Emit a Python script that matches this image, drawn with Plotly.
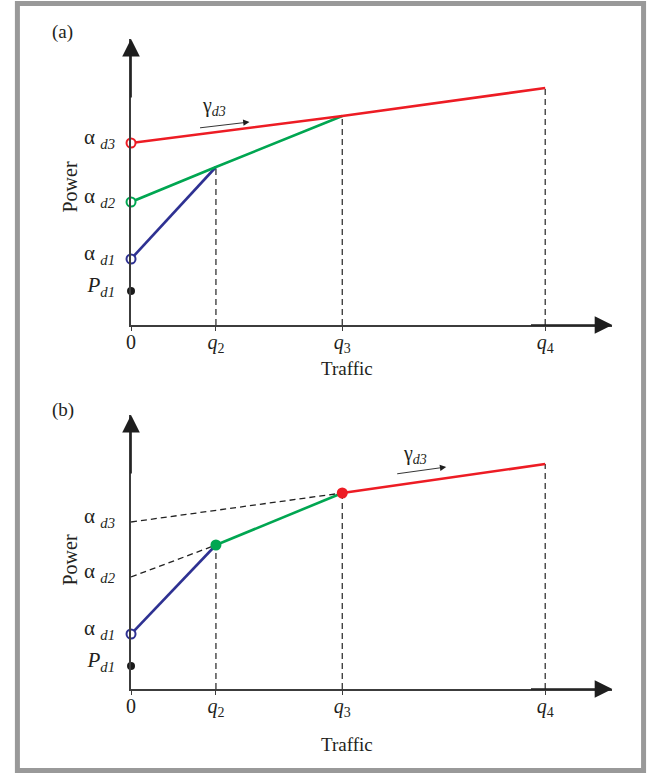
import plotly.graph_objects as go

W, H = 653, 773
FONT = "Liberation Serif"
TXT = "#231f20"
AX = "#3c3c3c"
RED = "#ed1c24"
GREEN = "#00a651"
BLUE = "#2e3192"

# ---------------- data ----------------
traffic_ticks = [0, 2.05, 5.1, 10]          # 0, q2, q3, q4
traffic_labels = ["0", "<i>q</i><sub>2</sub>", "<i>q</i><sub>3</sub>", "<i>q</i><sub>4</sub>"]
power_labels = ["<i>P</i><sub><i>d1</i></sub>",
                "α\u00a0<sub><i>d1</i></sub>",
                "α\u00a0<sub><i>d2</i></sub>",
                "α\u00a0<sub><i>d3</i></sub>"]

# panel (a)
a_pd1 = 1.7
a_alpha = [3.3, 6.15, 9.1]          # alpha_d1, alpha_d2, alpha_d3
a_power_q = [7.9, 10.45, 11.85]     # power at q2, q3, q4

# panel (b)
b_pd1 = 1.15
b_alpha = [2.75, 5.6, 8.35]
b_power_q = [7.2, 9.8, 11.25]

# axis extents (arrow tips)
x_top = 11.62
a_top = 14.3
b_top = 13.7

q0, q2, q3, q4 = traffic_ticks

fig = go.Figure()

def line(x, y, color, xa, ya, width=2.6, dash=None):
    fig.add_trace(go.Scatter(x=x, y=y, mode="lines", xaxis=xa, yaxis=ya,
                             line=dict(color=color, width=width, dash=dash),
                             hoverinfo="skip", showlegend=False))

def marker(x, y, color, xa, ya, size, fill, lw=2):
    fig.add_trace(go.Scatter(x=x, y=y, mode="markers", xaxis=xa, yaxis=ya,
                             cliponaxis=False,
                             marker=dict(size=size, color=fill,
                                         line=dict(color=color, width=lw)),
                             hoverinfo="skip", showlegend=False))

DASH = "6px,4px"
# ---------- panel (a) ----------
for q, p in zip([q2, q3, q4], a_power_q):
    line([q, q], [0, p], "#333333", "x", "y", width=1.3, dash=DASH)
line([q0, q2], [a_alpha[0], a_power_q[0]], BLUE, "x", "y")
line([q0, q2, q3], [a_alpha[1], a_power_q[0], a_power_q[1]], GREEN, "x", "y")
line([q0, q3, q4], [a_alpha[2], a_power_q[1], a_power_q[2]], RED, "x", "y")
for a, c in zip(a_alpha, [BLUE, GREEN, RED]):
    marker([0], [a], c, "x", "y", 9, "white")
marker([0], [a_pd1], "#1a1a1a", "x", "y", 8, "#1a1a1a", lw=0)

# ---------- panel (b) ----------
for q, p in zip([q2, q3, q4], b_power_q):
    line([q, q], [0, p], "#333333", "x2", "y2", width=1.3, dash=DASH)
line([q0, q2], [b_alpha[1], b_power_q[0]], "#222222", "x2", "y2", width=1.3, dash=DASH)
line([q0, q3], [b_alpha[2], b_power_q[1]], "#222222", "x2", "y2", width=1.3, dash=DASH)
line([q0, q2], [b_alpha[0], b_power_q[0]], BLUE, "x2", "y2")
line([q2, q3], [b_power_q[0], b_power_q[1]], GREEN, "x2", "y2")
line([q3, q4], [b_power_q[1], b_power_q[2]], RED, "x2", "y2")
marker([0], [b_alpha[0]], BLUE, "x2", "y2", 9, "white")
marker([0], [b_pd1], "#1a1a1a", "x2", "y2", 8, "#1a1a1a", lw=0)
marker([q2], [b_power_q[0]], GREEN, "x2", "y2", 11, GREEN, lw=0)
marker([q3], [b_power_q[1]], RED, "x2", "y2", 11, RED, lw=0)

def xaxis_cfg(anchor):
    return dict(domain=[127 / W, 612 / W], range=[0, x_top], anchor=anchor,
                showline=True, linecolor=AX, linewidth=1.6,
                tickvals=traffic_ticks, ticktext=traffic_labels,
                ticks="outside", ticklen=4, tickwidth=1.2, tickcolor=AX,
                ticklabelstandoff=-6,
                tickfont=dict(family=FONT, size=20, color=TXT),
                showgrid=False, zeroline=False, fixedrange=True)

def yaxis_cfg(anchor, dom, top, pd1, alpha):
    return dict(domain=dom, range=[0, top], anchor=anchor,
                showline=True, linecolor=AX, linewidth=1.6,
                tickvals=[pd1] + alpha, ticktext=power_labels,
                ticks="", ticklabelstandoff=10, ticklabelshift=-6,
                tickfont=dict(family=FONT, size=21, color=TXT),
                showgrid=False, zeroline=False, fixedrange=True)

annotations = []
def arrow(xr, yr, x, y, ax, ay, width, size):
    annotations.append(dict(xref=xr, yref=yr, axref=xr, ayref=yr, x=x, y=y, ax=ax, ay=ay,
                            text="", showarrow=True, arrowhead=2, arrowsize=size,
                            arrowwidth=width, arrowcolor="#1e1e1e", standoff=0,
                            font=dict(size=1)))

# axis arrow heads
arrow("x", "y", x_top, 0, x_top - 2, 0, 1.6, 2.2)
arrow("x", "y", 0, a_top, 0, a_top - 3, 1.6, 2.2)
arrow("x2", "y2", x_top, 0, x_top - 2, 0, 1.6, 2.2)
arrow("x2", "y2", 0, b_top, 0, b_top - 3, 1.6, 2.2)
# gamma arrows
arrow("x", "y", 2.86, 10.15, 1.63, 9.85, 0.9, 1.4)
arrow("x2", "y2", 7.61, 11.1, 6.39, 10.75, 0.9, 1.4)

def text(x, y, s, size=19, xr="paper", yr="paper", angle=0):
    if xr == "paper":
        x, y = x / W, 1 - y / H
    annotations.append(dict(xref=xr, yref=yr, x=x, y=y, text=s, showarrow=False,
                            textangle=angle, xanchor="center", yanchor="middle",
                            font=dict(family=FONT, size=size, color=TXT)))

gamma = "γ<sub><i>d3</i></sub>"
text(2.0, 10.95, gamma, 20, "x", "y")
text(6.85, 11.75, gamma, 20, "x2", "y2")
text(58, 32, "(a)")
text(58, 410, "(b)")
text(345, 368, "Traffic")
text(345, 744, "Traffic")
text(65, 187, "Power", 20, angle=-90)
text(65, 560, "Power", 20, angle=-90)

fig.update_layout(
    width=W, height=H, margin=dict(l=0, r=0, t=0, b=0),
    paper_bgcolor="white", plot_bgcolor="rgba(0,0,0,0)",
    xaxis=xaxis_cfg("y"),
    yaxis=yaxis_cfg("x", [1 - 325 / H, 1 - 39 / H], a_top, a_pd1, a_alpha),
    xaxis2=xaxis_cfg("y2"),
    yaxis2=yaxis_cfg("x2", [1 - 689 / H, 1 - 415 / H], b_top, b_pd1, b_alpha),
    annotations=annotations,
    shapes=[dict(type="rect", xref="paper", yref="paper",
                 x0=12.5 / W, x1=643.5 / W, y0=1 - 770.5 / H, y1=1 - 3.5 / H,
                 line=dict(color="#999999", width=5), fillcolor="rgba(0,0,0,0)")],
    showlegend=False,
)

fig.write_html("out.html", config={"displayModeBar": False},
               post_script="document.body.style.margin='0';document.body.style.overflow='hidden';")
